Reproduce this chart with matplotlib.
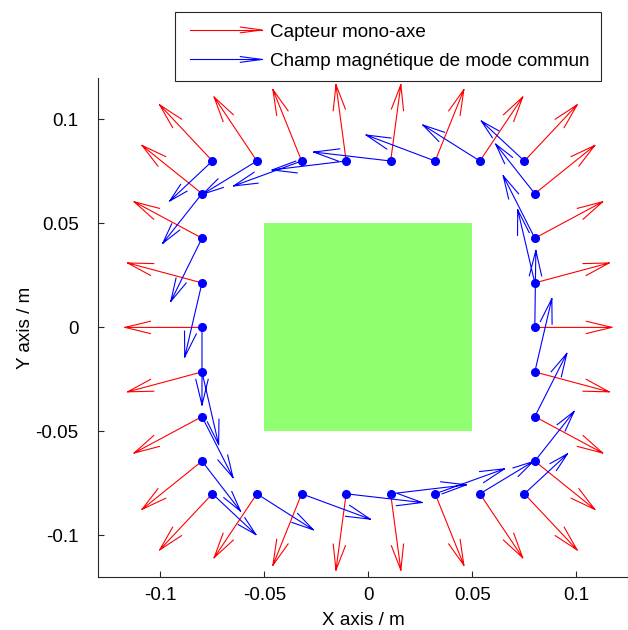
import numpy as np
import matplotlib
matplotlib.use('Agg')
import matplotlib.pyplot as plt
from matplotlib.lines import Line2D
from matplotlib.patches import Rectangle
from matplotlib.legend_handler import HandlerBase

plt.rcParams['font.family'] = ['Liberation Sans', 'DejaVu Sans']

# sensor positions (m): top row L->R, right col T->B, bottom row L->R, left col T->B
sensor_x = [-0.075, -0.0536, -0.0321, -0.0107, 0.0107, 0.0321, 0.0536, 0.075,
            0.08, 0.08, 0.08, 0.08, 0.08, 0.08, 0.08,
            -0.075, -0.0536, -0.0321, -0.0107, 0.0107, 0.0321, 0.0536, 0.075,
            -0.08, -0.08, -0.08, -0.08, -0.08, -0.08, -0.08]
sensor_y = [0.08, 0.08, 0.08, 0.08, 0.08, 0.08, 0.08, 0.08,
            0.0643, 0.0429, 0.0214, 0.0, -0.0214, -0.0429, -0.0643,
            -0.08, -0.08, -0.08, -0.08, -0.08, -0.08, -0.08, -0.08,
            0.0643, 0.0429, 0.0214, 0.0, -0.0214, -0.0429, -0.0643]

# orientation of each single-axis sensor (deg)
sensor_angle = [133.2, 123.8, 111.9, 97.6, 82.4, 68.1, 56.2, 46.8,
                38.8, 28.2, 15.0, 0.0, -15.0, -28.2, -38.8,
                -133.2, -123.8, -111.9, -97.6, -82.4, -68.1, -56.2, -46.8,
                141.2, 151.8, 165.0, 180.0, 195.0, 208.2, 218.8]

# common mode field seen at each sensor (plotted in m)
field_u = [-0.0205, -0.0260, -0.0327, -0.0356, -0.0370, -0.0332, -0.0274, -0.0207,
           -0.0188, -0.0152, -0.0082, 0.0005, 0.0082, 0.0154, 0.0189,
           0.0209, 0.0271, 0.0330, 0.0365, 0.0364, 0.0333, 0.0256, 0.0207,
           -0.0189, -0.0150, -0.0083, 0.0000, 0.0080, 0.0149, 0.0185]
field_v = [-0.0192, -0.0159, -0.0120, -0.0043, 0.0043, 0.0125, 0.0173, 0.0192,
           0.0238, 0.0300, 0.0351, 0.0370, 0.0352, 0.0304, 0.0239,
           -0.0196, -0.0173, -0.0122, -0.0042, 0.0043, 0.0120, 0.0155, 0.0192,
           -0.0239, -0.0304, -0.0356, -0.0373, -0.0349, -0.0293, -0.0240]

square_x = [-0.05, 0.05]
square_y = [-0.05, 0.05]

labels = ['Capteur mono-axe', 'Champ magnétique de mode commun']

SENSOR_LEN = 0.037
FS = 13.6


def arrow_lines(x, y, u, v, back=0.33, half=0.08):
    # open arrow heads like matlab quiver
    xs, ys = [], []
    for x0, y0, du, dv in zip(x, y, u, v):
        x1, y1 = x0 + du, y0 + dv
        bx, by = x1 - back * du, y1 - back * dv
        xs += [x0, x1, np.nan, bx - half * dv, x1, bx + half * dv, np.nan]
        ys += [y0, y1, np.nan, by + half * du, y1, by - half * du, np.nan]
    return xs, ys


class ArrowHandler(HandlerBase):
    def create_artists(self, legend, orig_handle, xdescent, ydescent,
                       width, height, fontsize, trans):
        c = orig_handle.get_color()
        y = height / 2 - ydescent
        x0, x1 = -xdescent + 0.05 * width, -xdescent + width
        b = 0.3 * (x1 - x0)
        h = 0.04 * (x1 - x0)
        shaft = Line2D([x0, x1], [y, y], color=c, lw=0.8, transform=trans)
        head = Line2D([x1 - b, x1, x1 - b], [y + h, y, y - h], color=c, lw=0.8,
                      transform=trans)
        return [shaft, head]


fig = plt.figure(figsize=(6.28, 6.30), dpi=100)
ax = fig.add_axes([98 / 628, 1 - 577 / 630, 530.4 / 628, 499.2 / 630])

ax.add_patch(Rectangle((square_x[0], square_y[0]), square_x[1] - square_x[0],
                       square_y[1] - square_y[0], facecolor='#90ff70', edgecolor='none'))

ang = np.radians(sensor_angle)
rx, ry = arrow_lines(sensor_x, sensor_y, SENSOR_LEN * np.cos(ang), SENSOR_LEN * np.sin(ang))
ax.plot(rx, ry, color='red', lw=0.8)
bx, by = arrow_lines(sensor_x, sensor_y, field_u, field_v)
ax.plot(bx, by, color='blue', lw=0.8)
ax.plot(sensor_x, sensor_y, 'o', color='blue', ms=5.5)

ax.set_xlim(-0.13, 0.125)
ax.set_ylim(-0.12, 0.12)
ax.set_xticks([-0.1, -0.05, 0, 0.05, 0.1])
ax.set_xticklabels(['-0.1', '-0.05', '0', '0.05', '0.1'])
ax.set_yticks([-0.1, -0.05, 0, 0.05, 0.1])
ax.set_yticklabels(['-0.1', '-0.05', '0', '0.05', '0.1'])
ax.spines['top'].set_visible(False)
ax.spines['right'].set_visible(False)
for s in ['left', 'bottom']:
    ax.spines[s].set_color('#262626')
    ax.spines[s].set_linewidth(0.8)
ax.tick_params(direction='in', length=4, width=0.8, colors='#262626', labelsize=FS,
               labelcolor='black')
ax.tick_params(axis='y', pad=14)
ax.tick_params(axis='x', pad=7.5)
ax.set_xlabel('X axis / m', fontsize=FS, labelpad=5.5)
ax.set_ylabel('Y axis / m', fontsize=FS, labelpad=1)

handles = [Line2D([], [], color='red'), Line2D([], [], color='blue')]
leg = ax.legend(handles, labels, handler_map={Line2D: ArrowHandler()},
                loc='upper left', bbox_to_anchor=(175 / 628, 1 - 12 / 630),
                bbox_transform=fig.transFigure, borderaxespad=0, fancybox=False,
                edgecolor='#262626', framealpha=1, fontsize=FS, handlelength=4.0,
                handletextpad=0.42, labelspacing=0.65, borderpad=0.6)
leg.get_frame().set_linewidth(0.8)
leg.set_zorder(10)

fig.savefig('out.png', dpi=100)
